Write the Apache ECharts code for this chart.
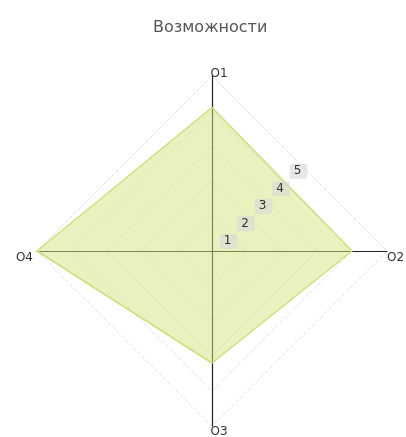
<!DOCTYPE html>
<html>
<head>
<meta charset="UTF-8" />
<title>Возможности</title>
<script src="https://cdn.jsdelivr.net/npm/echarts@6/dist/echarts.min.js"></script>
</head>
<body style="margin:0">
<div id="main" style="width:406px;height:437px;"></div>
<script type="text/javascript">
    // оси (по часовой стрелке от верха)
    var names = ['O1', 'O2', 'O3', 'O4'];
    // значения
    var values = [4.1, 4.0, 3.2, 5];
    // подписи шкалы
    var scaleLabels = ['1', '2', '3', '4', '5'];
    var maxValue = 5;

    // echarts рисует против часовой, поэтому переставляем
    var order = [0, 3, 2, 1];
    var indicator = [];
    var data = [];
    for (var i = 0; i < order.length; i++) {
        indicator.push({ name: names[order[i]], max: maxValue, min: 0 });
        data.push(values[order[i]]);
    }

    var cx = 212, cy = 251, R = 175;

    // сдвиги подписей осей
    var nameKeys = { O1: 'n', O2: 'e', O3: 's', O4: 'w' };
    var rich = {
        n: { padding: [0, 0, 0, 14] },
        s: { padding: [4, 0, 0, 14] },
        e: { padding: [14, 0, 0, 4] },
        w: { padding: [14, 8, 0, 0] }
    };

    var option = {
        animation: false,
        title: {
            text: 'Возможности',
            left: 148,
            top: 15,
            textStyle: { fontSize: 16, fontWeight: 'normal', color: '#555', fontFamily: 'DejaVu Sans' }
        },
        radar: {
            center: [cx, cy],
            radius: R,
            startAngle: 90,
            splitNumber: 5,
            shape: 'polygon',
            indicator: indicator,
            axisName: {
                color: '#333',
                fontSize: 12,
                fontFamily: 'DejaVu Sans',
                formatter: function (name) {
                    return '{' + nameKeys[name] + '|' + name + '}';
                },
                rich: rich
            },
            nameGap: -4,
            axisLine: { lineStyle: { color: '#222', width: 1.2 } },
            splitLine: { lineStyle: { color: '#dfe2ea', type: 'dashed', width: 1 } },
            splitArea: { show: false }
        },
        polar: {
            center: [cx, cy],
            radius: R * Math.SQRT1_2
        },
        angleAxis: {
            show: false,
            startAngle: 45,
            min: 0,
            max: 360
        },
        radiusAxis: {
            type: 'category',
            z: 10,
            data: [''].concat(scaleLabels),
            boundaryGap: false,
            axisLine: { show: false },
            axisTick: { show: false },
            splitLine: { show: false },
            axisLabel: {
                show: true,
                showMinLabel: false,
                color: '#333',
                fontSize: 12,
                fontFamily: 'DejaVu Sans',
                backgroundColor: 'rgba(215,215,215,0.6)',
                borderRadius: 2,
                padding: [2, 6, 1, 4],
                margin: -11
            }
        },
        series: [{
            type: 'radar',
            symbol: 'none',
            lineStyle: { color: '#cbdc7e', width: 1.5 },
            areaStyle: { color: 'rgba(210,229,128,0.72)' },
            data: [{ value: data, name: 'Возможности' }]
        }]
    };

    var myChart = echarts.init(document.getElementById('main'));
    myChart.setOption(option);
</script>
</body>
</html>
